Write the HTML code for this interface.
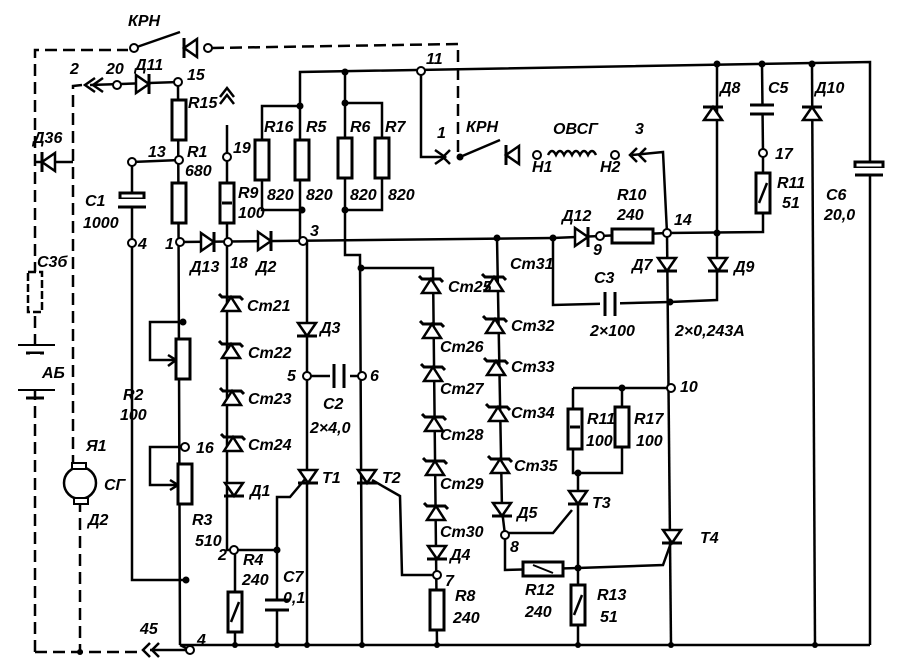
<!DOCTYPE html>
<html><head><meta charset="utf-8"><style>
html,body{margin:0;padding:0;background:#fff;}
svg{display:block;}
text{font-family:"Liberation Sans",sans-serif;font-style:italic;font-weight:bold;font-size:16px;fill:#000;}
</style></head><body>
<svg width="897" height="663" viewBox="0 0 897 663" xmlns="http://www.w3.org/2000/svg">
<defs>
<g id="dU"><polygon points="-9,7 9,7 0,-6" fill="#fff" stroke="#000" stroke-width="2.5"/><line x1="-10" y1="-6" x2="10" y2="-6" stroke="#000" stroke-width="3"/></g>
<g id="dD"><polygon points="-9,-7 9,-7 0,6" fill="#fff" stroke="#000" stroke-width="2.5"/><line x1="-10" y1="6" x2="10" y2="6" stroke="#000" stroke-width="3"/></g>
<g id="zU"><polygon points="-9,8 9,8 0,-6" fill="#fff" stroke="#000" stroke-width="2.5"/><polyline points="-12,-9 -9,-6 9,-6 12,-3" fill="none" stroke="#000" stroke-width="3"/></g>
<g id="dR"><polygon points="-7,-9 -7,9 6,0" fill="#fff" stroke="#000" stroke-width="2.5"/><line x1="6" y1="-10" x2="6" y2="10" stroke="#000" stroke-width="3"/></g>
<g id="dL"><polygon points="7,-9 7,9 -6,0" fill="#fff" stroke="#000" stroke-width="2.5"/><line x1="-6" y1="-10" x2="-6" y2="10" stroke="#000" stroke-width="3"/></g>
<rect id="rV" x="-7" y="-20" width="14" height="40" fill="#fff" stroke="#000" stroke-width="3"/>
</defs>

<g fill="none" stroke="#000" stroke-width="2.5" stroke-dasharray="12,6">
<polyline points="35,652 35,50 128,50"/>
<polyline points="212,48 458,44 458,155"/>
<polyline points="82,85 73,86 73,465"/>
<polyline points="80,500 80,652"/>
<polyline points="35,652 142,652"/>
</g>

<g fill="none" stroke="#000" stroke-width="2.5">
<polyline points="300,240 300,72 870,62 870,645"/>
<polyline points="90,85 178,82 180,645"/>
<polyline points="132,162 180,160"/>
<polyline points="132,162 132,580 186,580"/>
<polyline points="180,242 553,238"/>
<polyline points="227,125 227,550 235,550 235,645"/>
<polyline points="235,550 277,550 277,645"/>
<polyline points="277,550 277,497 290,497 306,478"/>
<polyline points="262,140 262,106 300,106"/>
<polyline points="262,180 262,210 302,210"/>
<polyline points="307,240 307,645"/>
<polyline points="307,376 362,376"/>
<polyline points="345,72 345,255 360,255 362,645"/>
<polyline points="345,103 382,103 382,210 345,210"/>
<polyline points="361,268 433,268 437,645"/>
<polyline points="372,480 400,496 402,575 437,575"/>
<polyline points="497,238 502,510 505,535 505,570 578,568 578,645"/>
<polyline points="505,533 553,533 572,510"/>
<polyline points="578,568 663,565 672,540"/>
<polyline points="573,388 573,473 578,473 578,568"/>
<polyline points="573,388 671,388"/>
<polyline points="622,388 622,473 578,473"/>
<polyline points="421,71 421,157 445,157"/>
<polyline points="460,157 500,140"/>
<polyline points="632,155 663,152 667,233"/>
<polyline points="553,238 600,236 667,233 763,232 763,153"/>
<polyline points="763,153 762,64"/>
<polyline points="717,64 717,300 670,302"/>
<polyline points="667,233 671,645"/>
<polyline points="553,238 553,305 670,302"/>
<polyline points="812,64 815,645"/>
<polyline points="150,650 190,650 180,645"/>
<polyline points="180,645 870,645"/>
<polyline points="182,322 150,322 150,360 176,360"/>
<polyline points="185,447 150,447 150,485 178,485"/>
</g>
<line x1="35" y1="162" x2="73" y2="162" stroke="#000" stroke-width="2.5"/>

<line x1="134" y1="48" x2="180" y2="32" stroke="#000" stroke-width="2.5"/>
<use href="#dL" x="190" y="48"/>
<polyline points="95,78 85,85 95,92" fill="none" stroke="#000" stroke-width="2.5"/>
<polyline points="103,78 93,85 103,92" fill="none" stroke="#000" stroke-width="2.5"/>
<polyline points="220,97 227,88 234,97" fill="none" stroke="#000" stroke-width="2.5"/>
<polyline points="220,104 227,95 234,104" fill="none" stroke="#000" stroke-width="2.5"/>
<polyline points="435,150 445,157 435,164" fill="none" stroke="#000" stroke-width="2.5"/>
<polyline points="450,150 443,157 450,164" fill="none" stroke="#000" stroke-width="2.5"/>
<polyline points="637,148 630,155 637,162" fill="none" stroke="#000" stroke-width="2.5"/>
<polyline points="646,148 639,155 646,162" fill="none" stroke="#000" stroke-width="2.5"/>
<polyline points="150,643 143,650 150,657" fill="none" stroke="#000" stroke-width="2.5"/>
<polyline points="159,643 152,650 159,657" fill="none" stroke="#000" stroke-width="2.5"/>
<polyline points="168,355 176,360 168,366" fill="none" stroke="#000" stroke-width="2.5"/>
<polyline points="170,480 178,485 170,490" fill="none" stroke="#000" stroke-width="2.5"/>
<path d="M548,155 q4,-8 8,0 q4,-8 8,0 q4,-8 8,0 q4,-8 8,0 q4,-8 8,0 q4,-8 8,0" fill="none" stroke="#000" stroke-width="2.5"/>
<use href="#dL" x="512" y="155"/>

<use href="#rV" x="179" y="120"/>
<use href="#rV" x="179" y="203"/>
<use href="#rV" x="227" y="203"/>
<line x1="222" y1="203" x2="232" y2="203" stroke="#000" stroke-width="3"/>
<use href="#rV" x="262" y="160"/>
<use href="#rV" x="302" y="160"/>
<use href="#rV" x="345" y="158"/>
<use href="#rV" x="382" y="158"/>
<use href="#rV" x="183" y="359"/>
<use href="#rV" x="185" y="484"/>
<use href="#rV" x="235" y="612"/>
<line x1="231" y1="622" x2="239" y2="602" stroke="#000" stroke-width="2.5"/>
<use href="#rV" x="437" y="610"/>
<use href="#rV" x="575" y="429"/>
<line x1="570" y1="427" x2="580" y2="427" stroke="#000" stroke-width="3"/>
<use href="#rV" x="622" y="427"/>
<use href="#rV" x="578" y="605"/>
<line x1="574" y1="615" x2="582" y2="595" stroke="#000" stroke-width="2.5"/>
<use href="#rV" x="763" y="193"/>
<line x1="759" y1="203" x2="767" y2="183" stroke="#000" stroke-width="2.5"/>
<rect x="612" y="229" width="41" height="14" fill="#fff" stroke="#000" stroke-width="3"/>
<rect x="523" y="562" width="40" height="14" fill="#fff" stroke="#000" stroke-width="3"/>
<line x1="533" y1="565" x2="553" y2="573" stroke="#000" stroke-width="2"/>
<rect x="28" y="272" width="14" height="40" fill="#fff" stroke="#000" stroke-width="2.5" stroke-dasharray="8,3"/>
<line x1="18" y1="345" x2="55" y2="345" stroke="#000" stroke-width="2"/>
<line x1="26" y1="353" x2="44" y2="353" stroke="#000" stroke-width="3"/>
<line x1="18" y1="390" x2="55" y2="390" stroke="#000" stroke-width="2"/>
<line x1="26" y1="398" x2="44" y2="398" stroke="#000" stroke-width="3"/>
<rect x="30" y="354" width="10" height="35" fill="#fff"/>
<circle cx="80" cy="483" r="16" fill="#fff" stroke="#000" stroke-width="2.5"/>
<rect x="72" y="463" width="14" height="6" fill="#fff" stroke="#000" stroke-width="2"/>
<rect x="74" y="498" width="14" height="6" fill="#fff" stroke="#000" stroke-width="2"/>

<g stroke="#000" stroke-width="3">
<rect x="120" y="193" width="24" height="6" fill="#fff"/><rect x="118" y="199" width="28" height="8" fill="#fff" stroke="none"/><line x1="118" y1="207" x2="146" y2="207"/>
<rect x="330" y="366" width="20" height="20" fill="#fff" stroke="none"/><line x1="334" y1="364" x2="334" y2="388"/><line x1="344" y1="364" x2="344" y2="388"/>
<rect x="600" y="295" width="20" height="20" fill="#fff" stroke="none"/><line x1="605" y1="292" x2="605" y2="316"/><line x1="615" y1="292" x2="615" y2="316"/>
<rect x="265" y="600" width="24" height="10" fill="#fff" stroke="none"/><line x1="265" y1="600" x2="289" y2="600"/><line x1="265" y1="610" x2="289" y2="610"/>
<rect x="750" y="106" width="24" height="8" fill="#fff" stroke="none"/><line x1="750" y1="105" x2="774" y2="105"/><line x1="750" y1="114" x2="774" y2="114"/>
<rect x="855" y="162" width="28" height="6" fill="#fff"/><rect x="853" y="168" width="32" height="6" fill="#fff" stroke="none"/><line x1="855" y1="175" x2="883" y2="175"/>
</g>

<use href="#dR" x="143" y="84"/>
<use href="#dL" x="48" y="162"/>
<use href="#dR" x="208" y="242"/>
<use href="#dR" x="265" y="241"/>
<use href="#dR" x="582" y="237"/>
<use href="#zU" x="231" y="303"/>
<use href="#zU" x="231" y="350"/>
<use href="#zU" x="232" y="397"/>
<use href="#zU" x="233" y="443"/>
<use href="#dD" x="234" y="490"/>
<use href="#dD" x="307" y="330"/>
<use href="#dD" x="308" y="477"/>
<use href="#dD" x="367" y="477"/>
<use href="#zU" x="431" y="285"/>
<use href="#zU" x="432" y="330"/>
<use href="#zU" x="433" y="373"/>
<use href="#zU" x="434" y="423"/>
<use href="#zU" x="435" y="467"/>
<use href="#zU" x="436" y="512"/>
<use href="#dD" x="437" y="553"/>
<use href="#zU" x="494" y="283"/>
<use href="#zU" x="495" y="325"/>
<use href="#zU" x="496" y="367"/>
<use href="#zU" x="498" y="413"/>
<use href="#zU" x="500" y="465"/>
<use href="#dD" x="502" y="510"/>
<use href="#dD" x="578" y="498"/>
<use href="#dD" x="672" y="537"/>
<use href="#dD" x="667" y="265"/>
<use href="#dD" x="718" y="265"/>
<use href="#dU" x="713" y="113"/>
<use href="#dU" x="812" y="113"/>

<g fill="#000">
<circle cx="300" cy="106" r="3.5"/><circle cx="302" cy="210" r="3.5"/><circle cx="345" cy="72" r="3.5"/><circle cx="345" cy="103" r="3.5"/><circle cx="345" cy="210" r="3.5"/><circle cx="361" cy="268" r="3.5"/><circle cx="497" cy="238" r="3.5"/><circle cx="553" cy="238" r="3.5"/><circle cx="717" cy="64" r="3.5"/><circle cx="762" cy="64" r="3.5"/><circle cx="812" cy="64" r="3.5"/><circle cx="717" cy="233" r="3.5"/><circle cx="670" cy="302" r="3.5"/><circle cx="578" cy="568" r="3.5"/><circle cx="578" cy="473" r="3.5"/><circle cx="622" cy="388" r="3.5"/><circle cx="183" cy="322" r="3.5"/><circle cx="186" cy="580" r="3.5"/><circle cx="277" cy="550" r="3.5"/><circle cx="460" cy="157" r="3.5"/>
<circle cx="235" cy="645" r="3"/><circle cx="277" cy="645" r="3"/><circle cx="307" cy="645" r="3"/><circle cx="362" cy="645" r="3"/><circle cx="437" cy="645" r="3"/><circle cx="578" cy="645" r="3"/><circle cx="671" cy="645" r="3"/><circle cx="815" cy="645" r="3"/><circle cx="80" cy="652" r="3"/>
</g>
<g fill="#fff" stroke="#000" stroke-width="2">
<circle cx="117" cy="85" r="4"/><circle cx="178" cy="82" r="4"/><circle cx="179" cy="160" r="4"/><circle cx="132" cy="162" r="4"/><circle cx="132" cy="243" r="4"/><circle cx="180" cy="242" r="4"/><circle cx="228" cy="242" r="4"/><circle cx="303" cy="241" r="4"/><circle cx="227" cy="157" r="4"/><circle cx="421" cy="71" r="4"/><circle cx="537" cy="155" r="4"/><circle cx="615" cy="155" r="4"/><circle cx="600" cy="236" r="4"/><circle cx="667" cy="233" r="4"/><circle cx="763" cy="153" r="4"/><circle cx="671" cy="388" r="4"/><circle cx="307" cy="376" r="4"/><circle cx="362" cy="376" r="4"/><circle cx="234" cy="550" r="4"/><circle cx="437" cy="575" r="4"/><circle cx="505" cy="535" r="4"/><circle cx="185" cy="447" r="4"/><circle cx="190" cy="650" r="4"/><circle cx="134" cy="48" r="4"/><circle cx="208" cy="48" r="4"/>
</g>

<text x="128" y="26">КРН</text>
<text x="70" y="74">2</text><text x="106" y="74" font-size="13">20</text><text x="135" y="70">Д11</text><text x="187" y="80" font-size="13">15</text>
<text x="188" y="108">R15</text>
<text x="148" y="157" font-size="13">13</text><text x="187" y="157">R1</text><text x="185" y="176">680</text>
<text x="233" y="153" font-size="13">19</text>
<text x="85" y="206">С1</text><text x="83" y="228">1000</text>
<text x="138" y="249" font-size="13">4</text><text x="165" y="249" font-size="13">1</text>
<text x="190" y="272">Д13</text><text x="230" y="268" font-size="13">18</text><text x="256" y="272">Д2</text><text x="310" y="236" font-size="13">3</text>
<text x="238" y="198">R9</text><text x="238" y="218" font-size="14">100</text>
<text x="264" y="132">R16</text><text x="306" y="132">R5</text><text x="350" y="132">R6</text><text x="385" y="132">R7</text>
<text x="267" y="200">820</text><text x="306" y="200">820</text><text x="350" y="200">820</text><text x="388" y="200">820</text>
<text x="426" y="64" font-size="13">11</text><text x="437" y="138">1</text><text x="466" y="132">КРН</text>
<text x="553" y="134">ОВСГ</text><text x="635" y="134">3</text>
<text x="532" y="172" font-size="14">Н1</text><text x="600" y="172" font-size="14">Н2</text>
<text x="562" y="221">Д12</text><text x="593" y="255" font-size="13">9</text><text x="617" y="200">R10</text><text x="617" y="220">240</text><text x="674" y="225" font-size="13">14</text>
<text x="632" y="270">Д7</text><text x="720" y="93">Д8</text><text x="768" y="93">С5</text><text x="815" y="93">Д10</text>
<text x="775" y="159" font-size="13">17</text><text x="777" y="188">R11</text><text x="782" y="208">51</text>
<text x="826" y="200">С6</text><text x="824" y="220">20,0</text><text x="734" y="272">Д9</text>
<text x="594" y="283">С3</text><text x="590" y="336">2×100</text><text x="675" y="336">2×0,243А</text>
<text x="680" y="392" font-size="13">10</text>
<text x="247" y="311">Ст21</text><text x="248" y="358">Ст22</text><text x="248" y="404">Ст23</text><text x="248" y="450">Ст24</text>
<text x="320" y="333">Д3</text><text x="287" y="381" font-size="13">5</text><text x="370" y="381" font-size="13">6</text>
<text x="323" y="409">С2</text><text x="310" y="433">2×4,0</text>
<text x="250" y="496">Д1</text><text x="322" y="483">Т1</text><text x="382" y="483">Т2</text>
<text x="448" y="292">Ст25</text><text x="440" y="352">Ст26</text><text x="440" y="394">Ст27</text><text x="440" y="440">Ст28</text><text x="440" y="489">Ст29</text><text x="440" y="537">Ст30</text>
<text x="450" y="560">Д4</text><text x="445" y="586" font-size="13">7</text><text x="455" y="601">R8</text><text x="453" y="623">240</text>
<text x="510" y="269">Ст31</text><text x="511" y="331">Ст32</text><text x="511" y="372">Ст33</text><text x="511" y="418">Ст34</text><text x="514" y="471">Ст35</text>
<text x="517" y="518">Д5</text><text x="510" y="552" font-size="13">8</text>
<text x="525" y="595">R12</text><text x="525" y="617">240</text><text x="597" y="600">R13</text><text x="600" y="622">51</text>
<text x="592" y="508">Т3</text><text x="700" y="543">Т4</text>
<text x="587" y="424">R11</text><text x="586" y="446">100</text><text x="634" y="424">R17</text><text x="636" y="446">100</text>
<text x="123" y="400">R2</text><text x="120" y="420">100</text><text x="196" y="453" font-size="13">16</text>
<text x="192" y="525">R3</text><text x="195" y="546">510</text><text x="218" y="560" font-size="13">2</text>
<text x="243" y="565">R4</text><text x="242" y="585">240</text><text x="283" y="582">С7</text><text x="283" y="603">0,1</text>
<text x="140" y="634">45</text><text x="197" y="645" font-size="13">4</text>
<text x="86" y="451">Я1</text><text x="104" y="490">СГ</text><text x="88" y="525">Д2</text>
<text x="33" y="143">Д36</text><text x="37" y="267">С3б</text><text x="42" y="378">АБ</text>
</svg>
</body></html>
